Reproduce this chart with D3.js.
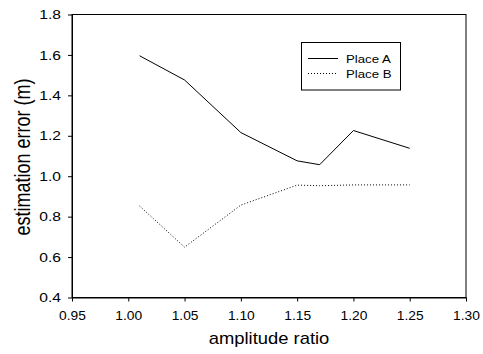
<!DOCTYPE html>
<html><head><meta charset="utf-8">
<script src="https://cdn.jsdelivr.net/npm/d3@7"></script>
<style>body{margin:0;background:#fff}svg{display:block;font-family:"Liberation Sans",Arial,sans-serif}</style>
</head><body><svg id="c" width="483" height="354"></svg>
<script>
const xsA = [1.01, 1.05, 1.10, 1.15, 1.17, 1.20, 1.25];
const placeA = [1.596, 1.476, 1.216, 1.076, 1.057, 1.226, 1.138];
const xsB = [1.01, 1.05, 1.10, 1.15, 1.17, 1.20, 1.25];
const placeB = [0.853, 0.649, 0.857, 0.956, 0.953, 0.957, 0.957];
const xTicks = [0.95, 1.00, 1.05, 1.10, 1.15, 1.20, 1.25, 1.30];
const yTicks = [0.4, 0.6, 0.8, 1.0, 1.2, 1.4, 1.6, 1.8];
const seriesNames = ["Place A", "Place B"];

const svg = d3.select("#c");
const L = 72, R = 466, T = 14.5, B = 297.5;
const SX = 1.15;
const x = d3.scaleLinear().domain([0.95, 1.30]).range([L, R]);
const y = d3.scaleLinear().domain([0.4, 1.8]).range([B, T]);

svg.append("rect").attr("x", L).attr("y", T).attr("width", R - L).attr("height", B - T)
  .attr("fill", "none").attr("stroke", "#000").attr("stroke-width", 1);

const xa = svg.append("g").attr("transform", `translate(0,${B})`)
  .call(d3.axisBottom(x).tickValues(xTicks).tickFormat(d3.format(".2f")).tickSizeInner(4).tickSizeOuter(0).tickPadding(10));
const ya = svg.append("g").attr("transform", `translate(${L},0)`)
  .call(d3.axisLeft(y).tickValues(yTicks).tickFormat(d3.format(".1f")).tickSizeInner(4).tickSizeOuter(0).tickPadding(7));
[xa, ya].forEach(g => {
  g.selectAll("line").attr("stroke", "#000");
  g.select(".domain").attr("stroke", "#000");
  g.selectAll("text").attr("fill", "#000").attr("font-family", "Liberation Sans, Arial, sans-serif");
});
xa.selectAll(".tick text").attr("font-size", 12).attr("transform", `scale(${SX},1)`);
ya.selectAll("text").attr("font-size", 13).each(function () {
  const t = d3.select(this); const x0 = +t.attr("x");
  t.attr("transform", `translate(${x0},0) scale(1.2,1) translate(${-x0},0)`);
});

const line = d3.line().x(d => x(d[0])).y(d => y(d[1]));
svg.append("path").datum(xsA.map((v, i) => [v, placeA[i]]))
  .attr("d", line).attr("fill", "none").attr("stroke", "#000").attr("stroke-width", 1);
svg.append("path").datum(xsB.map((v, i) => [v, placeB[i]]))
  .attr("d", line).attr("fill", "none").attr("stroke", "#000").attr("stroke-width", 1).attr("stroke-dasharray", "1,2");

svg.append("text").attr("transform", `translate(${(L + R) / 2},344) scale(1.15,1)`).attr("text-anchor", "middle")
  .attr("font-size", 16).text("amplitude ratio");
svg.append("text").attr("transform", `translate(30,157) rotate(-90) scale(1,1.2)`).attr("text-anchor", "middle")
  .attr("font-size", 18).text("estimation error (m)");

const lg = svg.append("g");
lg.append("rect").attr("x", 301.5).attr("y", 42.5).attr("width", 99).attr("height", 47.5)
  .attr("fill", "#fff").attr("stroke", "#000").attr("stroke-width", 1);
seriesNames.forEach((n, i) => {
  const yy = 58.5 + i * 15;
  lg.append("line").attr("x1", 308).attr("x2", 338).attr("y1", yy).attr("y2", yy)
    .attr("stroke", "#000").attr("stroke-width", 1).attr("stroke-dasharray", i ? "1,2" : null);
  lg.append("text").attr("transform", `translate(346,${yy + 4.3}) scale(1.12,1)`).attr("font-size", 11.8).text(n);
});
</script></body></html>
